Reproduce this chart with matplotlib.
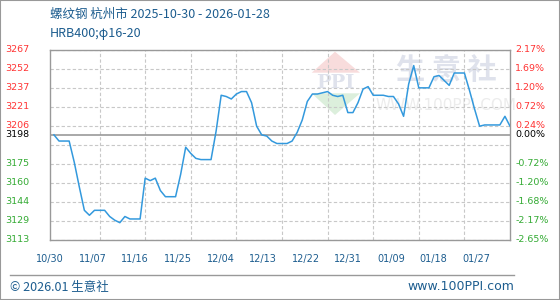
import numpy as np
import pandas as pd
import matplotlib
matplotlib.use("Agg")
import matplotlib.pyplot as plt
import matplotlib.dates as mdates
from matplotlib.patches import Polygon, Rectangle
from matplotlib.lines import Line2D

plt.rcParams["font.family"] = ["Noto Sans CJK SC", "DejaVu Sans"]

# daily price, 2025-10-30 .. 2026-01-28
start_date = "2025-10-30"
prices = [
    3198, 3193, 3193, 3193, 3176, 3156, 3137, 3133, 3137, 3137,
    3137, 3132, 3129, 3127, 3132, 3130, 3130, 3130, 3163, 3161,
    3163, 3153, 3148, 3148, 3148, 3166, 3188, 3183, 3179, 3178,
    3178, 3178, 3201, 3230, 3229, 3227, 3231, 3233, 3233, 3224,
    3205, 3198, 3197, 3193, 3191, 3191, 3191, 3193, 3200, 3210,
    3225, 3231, 3231, 3232, 3233, 3230, 3229, 3230, 3216, 3216,
    3224, 3235, 3237, 3230, 3230, 3230, 3229, 3229, 3223, 3213,
    3239, 3254, 3236, 3236, 3236, 3245, 3246, 3242, 3238, 3248,
    3248, 3248, 3234, 3219, 3205, 3206, 3206, 3206, 3206, 3213,
    3205,
]
base_price = 3198

left_labels = ["3267", "3252", "3237", "3221", "3206", "",
               "3175", "3160", "3144", "3129", "3113"]
right_labels = ["2.17%", "1.69%", "1.20%", "0.72%", "0.24%", "",
                "-0.72%", "-1.20%", "-1.68%", "-2.17%", "-2.65%"]
x_labels = ["10/30", "11/07", "11/16", "11/25", "12/04", "12/13",
            "12/22", "12/31", "01/09", "01/18", "01/27"]

title = "螺纹钢 杭州市 2025-10-30 - 2026-01-28"
subtitle = "HRB400;φ16-20"

text_blue = "#1d5d8f"
line_blue = "#3399dd"
grid_grey = "#c8c8c8"
frame_grey = "#999999"

dates = pd.date_range(start_date, periods=len(prices), freq="D")
x = mdates.date2num(dates)

fig = plt.figure(figsize=(5.6, 3.0), dpi=100)
ax = fig.add_axes([50 / 560, 60 / 300, 460 / 560, 190.5 / 300])

y_top, y_bottom = 3267, 3113
grid_vals = np.linspace(y_top, y_bottom, 11)

ax.set_ylim(y_bottom, y_top)
ax.set_xlim(x[0], x[-1])

# grid
ax.set_yticks(grid_vals)
ax.set_yticklabels([])
grid_x = x[0] + np.arange(9, 90, 9)
ax.set_xticks(grid_x, minor=True)
ax.grid(which="major", axis="y", color=grid_grey, linestyle=(0, (3, 2)), lw=0.8)
ax.grid(which="minor", axis="x", color=grid_grey, linestyle=(0, (3, 2)), lw=0.8)
ax.tick_params(which="both", length=0)

label_pos = x[0] + np.linspace(-0.78, 83.3, len(x_labels))
ax.set_xticks(label_pos)
ax.set_xticklabels(x_labels, fontsize=7, color=text_blue, family="DejaVu Sans")
ax.tick_params(axis="x", pad=10)

for s in ax.spines.values():
    s.set_color(frame_grey)
    s.set_linewidth(1.0)

ax.axhline(base_price, color=frame_grey, lw=1.2, zorder=2)

# watermark (behind the axes)
wm = dict(transform=fig.transFigure, zorder=-1)
fig.patches.append(Polygon([(311.7 / 560, 1 - 72.7 / 300), (360 / 560, 1 - 72.7 / 300),
                            (335 / 560, 1 - 51.7 / 300)], closed=True,
                           facecolor="#f8dcdc", edgecolor="none", **wm))
fig.patches.append(Polygon([(311.7 / 560, 1 - 93.3 / 300), (360 / 560, 1 - 93.3 / 300),
                            (335 / 560, 1 - 115 / 300)], closed=True,
                           facecolor="#dcefdc", edgecolor="none", **wm))
fig.text(335.5 / 560, 1 - 83.5 / 300, "PPI", ha="center", va="center",
         fontsize=14, color="#dfe2ec", family="DejaVu Serif", fontweight="bold", zorder=-0.9)
fig.text(446 / 560, 1 - 70 / 300, "生 意 社", ha="center", va="center",
         fontsize=21, color="#dfe2ec", fontweight="bold", zorder=-0.9)
fig.text(446 / 560, 1 - 106 / 300, "WWW.100PPI.COM", ha="center", va="center",
         fontsize=11, color="#ececec", family="DejaVu Sans", zorder=-0.9)
ax.set_facecolor("none")

ax.plot(x, prices, color=line_blue, lw=1.1, zorder=3)

# side labels
ytr = ax.get_yaxis_transform()
for val, left, right in zip(grid_vals, left_labels, right_labels):
    if not left:
        continue
    col = "#ff3333" if val > base_price else "#33aa33"
    ax.text(-0.098, val, left, transform=ytr, ha="left", va="center",
            fontsize=6.8, color=col, family="DejaVu Sans", clip_on=False)
    ax.text(1.011, val, right, transform=ytr, ha="left", va="center",
            fontsize=6.8, color=col, family="DejaVu Sans", clip_on=False)
ax.text(-0.098, base_price, str(base_price), transform=ytr, ha="left", va="center",
        fontsize=6.8, color="black", family="DejaVu Sans", clip_on=False)
ax.text(1.011, base_price, "0.00%", transform=ytr, ha="left", va="center",
        fontsize=6.8, color="black", family="DejaVu Sans", clip_on=False)

# titles
fig.text(50 / 560, 1 - 14 / 300, title, ha="left", va="center",
         fontsize=9, color=text_blue)
fig.text(50 / 560, 1 - 34 / 300, subtitle, ha="left", va="center",
         fontsize=9, color=text_blue)

# footer
fig.add_artist(Line2D([10 / 560, 514 / 560], [1 - 275 / 300, 1 - 275 / 300],
                      transform=fig.transFigure, color=frame_grey, lw=1))
fig.text(10 / 560, 1 - 287 / 300, "© 2026.01 生意社", ha="left", va="center",
         fontsize=9, color=text_blue)
fig.text(514 / 560, 1 - 287 / 300, "www.100PPI.com", ha="right", va="center",
         fontsize=9, color=text_blue, family="DejaVu Sans")
fig.patches.append(Rectangle((0, 0), 1, 1, transform=fig.transFigure,
                             fill=False, edgecolor=frame_grey, lw=1.5))

fig.savefig("out.png", dpi=100)
